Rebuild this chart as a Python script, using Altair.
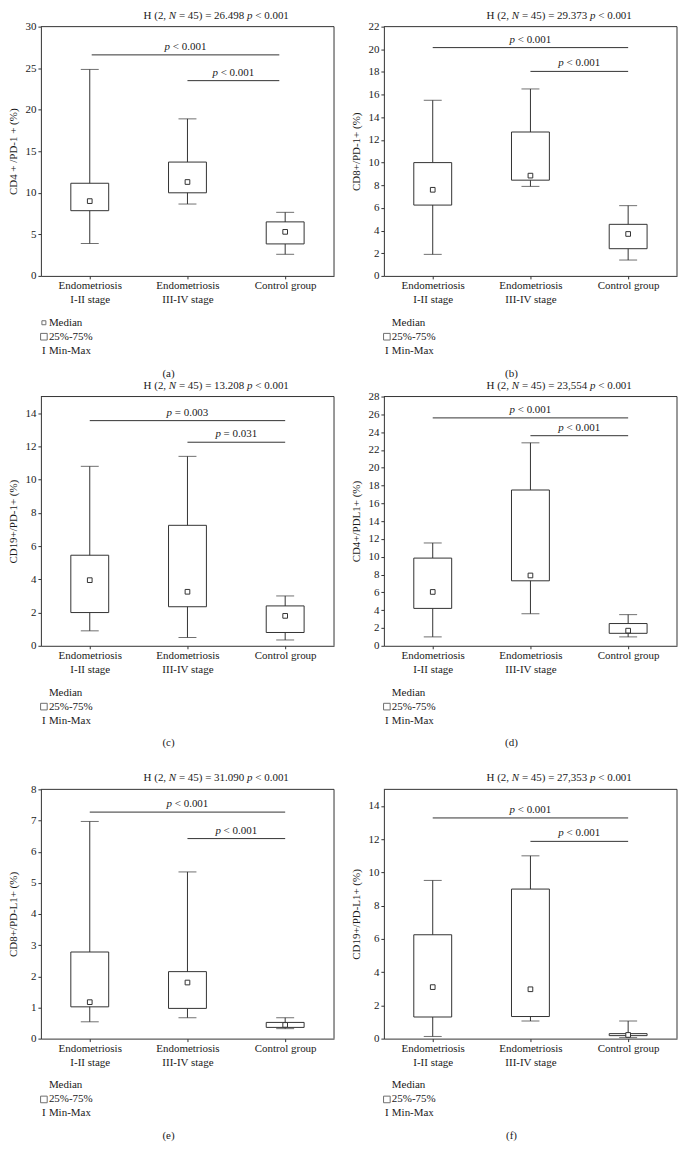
import json
import altair as alt
import pandas as pd

FONT = "Liberation Serif"
INK = "#333333"
TXT = "#1a1a1a"

PANEL_W = 294
PANEL_H = 250
TOP_EXTRA = [0, 0, 0, 0, 23, 23]

GROUP_POS = [0.5, 1.5, 2.5]
GROUP_LINES = [["Endometriosis", "I-II stage"], ["Endometriosis", "III-IV stage"], ["Control group"]]
LEGEND_LABELS = ["Median", "25%-75%", "Min-Max"]
PANEL_LETTERS = ["(a)", "(b)", "(c)", "(d)", "(e)", "(f)"]
Y_TITLES = ["CD4 + /PD-1 + (%)", "CD8+/PD-1+ (%)", "CD19+/PD-1+ (%)",
            "CD4+/PDL1+ (%)", "CD8+/PD-L1+ (%)", "CD19+/PD-L1+ (%)"]
H_VALUES = ["26.498", "29.373", "13.208", "23,554", "31.090", "27,353"]
Y_MAX = [30, 22, 15, 28, 8, 15]
Y_TICKS = [
    [0, 5, 10, 15, 20, 25, 30],
    [0, 2, 4, 6, 8, 10, 12, 14, 16, 18, 20, 22],
    [0, 2, 4, 6, 8, 10, 12, 14],
    [0, 2, 4, 6, 8, 10, 12, 14, 16, 18, 20, 22, 24, 26, 28],
    [0, 1, 2, 3, 4, 5, 6, 7, 8],
    [0, 2, 4, 6, 8, 10, 12, 14],
]
SHOW_MEDIAN_SYMBOL = [True, False, False, False, False, False]

# (a) CD4+/PD-1+
A_MIN = [3.9, 8.65, 2.6]
A_Q1 = [7.85, 10.0, 3.85]
A_MED = [9.0, 11.3, 5.3]
A_Q3 = [11.15, 13.7, 6.5]
A_MAX = [24.85, 18.9, 7.65]
A_SIG_Y = [26.6, 23.5]
A_SIG_FROM = [0.52, 1.5]
A_SIG_TO = [2.44, 2.44]
A_SIG_P = ["< 0.001", "< 0.001"]

# (b) CD8+/PD-1+
B_MIN = [1.9, 7.9, 1.4]
B_Q1 = [6.25, 8.45, 2.4]
B_MED = [7.6, 8.85, 3.7]
B_Q3 = [10.0, 12.7, 4.55]
B_MAX = [15.5, 16.5, 6.2]
B_SIG_Y = [20.15, 18.05]
B_SIG_FROM = [0.5, 1.5]
B_SIG_TO = [2.5, 2.5]
B_SIG_P = ["< 0.001", "< 0.001"]

# (c) CD19+/PD-1+
C_MIN = [0.9, 0.5, 0.35]
C_Q1 = [2.0, 2.35, 0.8]
C_MED = [3.95, 3.25, 1.8]
C_Q3 = [5.45, 7.25, 2.4]
C_MAX = [10.8, 11.4, 3.0]
C_SIG_Y = [13.55, 12.25]
C_SIG_FROM = [0.5, 1.5]
C_SIG_TO = [2.5, 2.5]
C_SIG_P = ["= 0.003", "= 0.031"]

# (d) CD4+/PDL1+
D_MIN = [1.0, 3.6, 1.0]
D_Q1 = [4.2, 7.3, 1.4]
D_MED = [6.05, 7.9, 1.7]
D_Q3 = [9.85, 17.5, 2.5]
D_MAX = [11.55, 22.8, 3.5]
D_SIG_Y = [25.6, 23.6]
D_SIG_FROM = [0.5, 1.5]
D_SIG_TO = [2.5, 2.5]
D_SIG_P = ["< 0.001", "< 0.001"]

# (e) CD8+/PD-L1+
E_MIN = [0.54, 0.67, 0.32]
E_Q1 = [1.02, 0.97, 0.36]
E_MED = [1.17, 1.8, 0.44]
E_Q3 = [2.78, 2.15, 0.52]
E_MAX = [6.97, 5.35, 0.67]
E_SIG_Y = [7.27, 6.42]
E_SIG_FROM = [0.5, 1.5]
E_SIG_TO = [2.5, 2.5]
E_SIG_P = ["< 0.001", "< 0.001"]

# (f) CD19+/PD-L1+
F_MIN = [0.13, 1.06, 0.06]
F_Q1 = [1.3, 1.33, 0.18]
F_MED = [3.1, 2.97, 0.22]
F_Q3 = [6.25, 9.0, 0.3]
F_MAX = [9.52, 11.0, 1.06]
F_SIG_Y = [13.28, 11.87]
F_SIG_FROM = [0.5, 1.5]
F_SIG_TO = [2.5, 2.5]
F_SIG_P = ["< 0.001", "< 0.001"]

STATS = [
    (A_MIN, A_Q1, A_MED, A_Q3, A_MAX),
    (B_MIN, B_Q1, B_MED, B_Q3, B_MAX),
    (C_MIN, C_Q1, C_MED, C_Q3, C_MAX),
    (D_MIN, D_Q1, D_MED, D_Q3, D_MAX),
    (E_MIN, E_Q1, E_MED, E_Q3, E_MAX),
    (F_MIN, F_Q1, F_MED, F_Q3, F_MAX),
]
SIGS = [
    (A_SIG_Y, A_SIG_FROM, A_SIG_TO, A_SIG_P),
    (B_SIG_Y, B_SIG_FROM, B_SIG_TO, B_SIG_P),
    (C_SIG_Y, C_SIG_FROM, C_SIG_TO, C_SIG_P),
    (D_SIG_Y, D_SIG_FROM, D_SIG_TO, D_SIG_P),
    (E_SIG_Y, E_SIG_FROM, E_SIG_TO, E_SIG_P),
    (F_SIG_Y, F_SIG_FROM, F_SIG_TO, F_SIG_P),
]

LABEL_EXPR = " : ".join(
    f"abs(datum.value - {p}) < 0.01 ? {json.dumps(lines)}"
    for p, lines in zip(GROUP_POS, GROUP_LINES)
) + " : ''"

# title pieces (Times metrics, em offsets at 11px)
TITLE_OFFSETS = [0, 2.305, 3.222, 9.433, 10.183]
TITLE_STYLES = ["normal", "italic", "normal", "italic", "normal"]
TITLE_START = 103
FS = 11


def one():
    return pd.DataFrame({"k": [0]})


def text_layer(txt, x, y, align="left", style="normal", size=FS):
    return alt.Chart(one()).mark_text(
        font=FONT, fontSize=size, fontStyle=style, align=align,
        baseline="middle", color=TXT
    ).encode(x=alt.value(x), y=alt.value(y), text=alt.value(txt))


def make_panel(i):
    mn, q1, md, q3, mx = STATS[i]
    top = TOP_EXTRA[i]
    hh = PANEL_H + top
    stats = pd.DataFrame({"pos": GROUP_POS, "mn": mn, "q1": q1, "md": md, "q3": q3, "mx": mx})
    sy, sf, st, sp = SIGS[i]
    sig = pd.DataFrame({"y": sy, "x1": sf, "x2": st, "rest": sp})
    sig["mid"] = (sig["x1"] + sig["x2"]) / 2

    xscale = alt.Scale(domain=[0, 3], nice=False, zero=False, padding=0)
    yscale = alt.Scale(domain=[0, Y_MAX[i]], range=[hh, top], nice=False, zero=False)
    xaxis = alt.Axis(values=GROUP_POS, labelExpr=LABEL_EXPR, grid=False, tickSize=3,
                     labelPadding=1, labelLineHeight=14, labelFont=FONT, labelFontSize=FS,
                     labelColor=TXT, domainColor=INK, tickColor=INK, labelFlush=False,
                     labelOverlap=False, labelAngle=0)
    yaxis = alt.Axis(values=Y_TICKS[i], grid=False, tickSize=3, labelPadding=2,
                     labelFont=FONT, labelFontSize=FS, labelColor=TXT, domainColor=INK,
                     tickColor=INK, labelOverlap=False, titleFont=FONT, titleFontSize=FS,
                     titleFontWeight="normal", titleColor=TXT, titleX=-27,
                     titleY=(hh + top) / 2, titleAngle=270, titleAlign="center",
                     titleBaseline="middle")

    def X(f):
        return alt.X(f, type="quantitative", scale=xscale, axis=xaxis, title=None)

    def Y(f):
        return alt.Y(f, type="quantitative", scale=yscale, axis=yaxis, title=Y_TITLES[i])

    base = alt.Chart(stats)
    layers = [
        base.mark_rule(color=INK, strokeWidth=1).encode(x=X("pos"), y=Y("mn"), y2="mx"),
        base.mark_bar(size=38, fill="white", stroke=INK, strokeWidth=1).encode(
            x=X("pos"), y=Y("q1"), y2="q3"),
        base.mark_tick(orient="horizontal", size=18, thickness=1, color=INK).encode(
            x=X("pos"), y=Y("mn")),
        base.mark_tick(orient="horizontal", size=18, thickness=1, color=INK).encode(
            x=X("pos"), y=Y("mx")),
        base.mark_point(shape="square", size=22, filled=True, fill="white", stroke=INK,
                        strokeWidth=1, opacity=1).encode(x=X("pos"), y=Y("md")),
        alt.Chart(sig).mark_rule(color=INK, strokeWidth=1).encode(
            x=X("x1"), x2="x2", y=Y("y")),
        alt.Chart(sig).mark_text(font=FONT, fontSize=FS, fontStyle="italic", align="left",
                                 baseline="middle", dx=-21, dy=-8, color=TXT).encode(
            x=X("mid"), y=Y("y"), text=alt.value("p")),
        alt.Chart(sig).mark_text(font=FONT, fontSize=FS, align="left",
                                 baseline="middle", dx=-12.75, dy=-8, color=TXT).encode(
            x=X("mid"), y=Y("y"), text="rest:N"),
        # frame: top and right
        alt.Chart(one()).mark_rule(color=INK, strokeWidth=1).encode(
            x=alt.value(0), x2=alt.value(PANEL_W), y=alt.value(top)),
        alt.Chart(one()).mark_rule(color=INK, strokeWidth=1).encode(
            x=alt.value(PANEL_W), y=alt.value(top), y2=alt.value(hh)),
    ]
    # title
    parts = ["H (2,", "N", f"= 45) = {H_VALUES[i]}", "p", "< 0.001"]
    for txt, off, sty in zip(parts, TITLE_OFFSETS, TITLE_STYLES):
        layers.append(text_layer(txt, TITLE_START + off * FS, top - 11, style=sty))
    # legend
    leg_y = [hh + 47, hh + 61, hh + 75]
    for lab, yy in zip(LEGEND_LABELS, leg_y):
        layers.append(text_layer(lab, 8, yy))
    if SHOW_MEDIAN_SYMBOL[i]:
        layers.append(alt.Chart(one()).mark_point(shape="square", size=16, filled=False,
                                                  color=INK, strokeWidth=1).encode(
            x=alt.value(3), y=alt.value(leg_y[0])))
    layers.append(alt.Chart(one()).mark_point(shape="square", size=44, filled=False,
                                              color=INK, strokeWidth=1).encode(
        x=alt.value(3), y=alt.value(leg_y[1])))
    layers.append(text_layer("I", 3, leg_y[2], align="center"))
    # panel letter
    layers.append(text_layer(PANEL_LETTERS[i], 128, hh + 98, align="center"))

    return alt.layer(*layers).properties(width=PANEL_W, height=hh)


panels = [make_panel(i) for i in range(6)]

chart = alt.concat(
    *panels, columns=2, spacing=alt.RowColnumber(row=121, column=50), bounds="flush"
).properties(padding=0).configure_view(strokeWidth=0)

chart.save("out.html", embed_options={"renderer": "svg", "actions": False})
